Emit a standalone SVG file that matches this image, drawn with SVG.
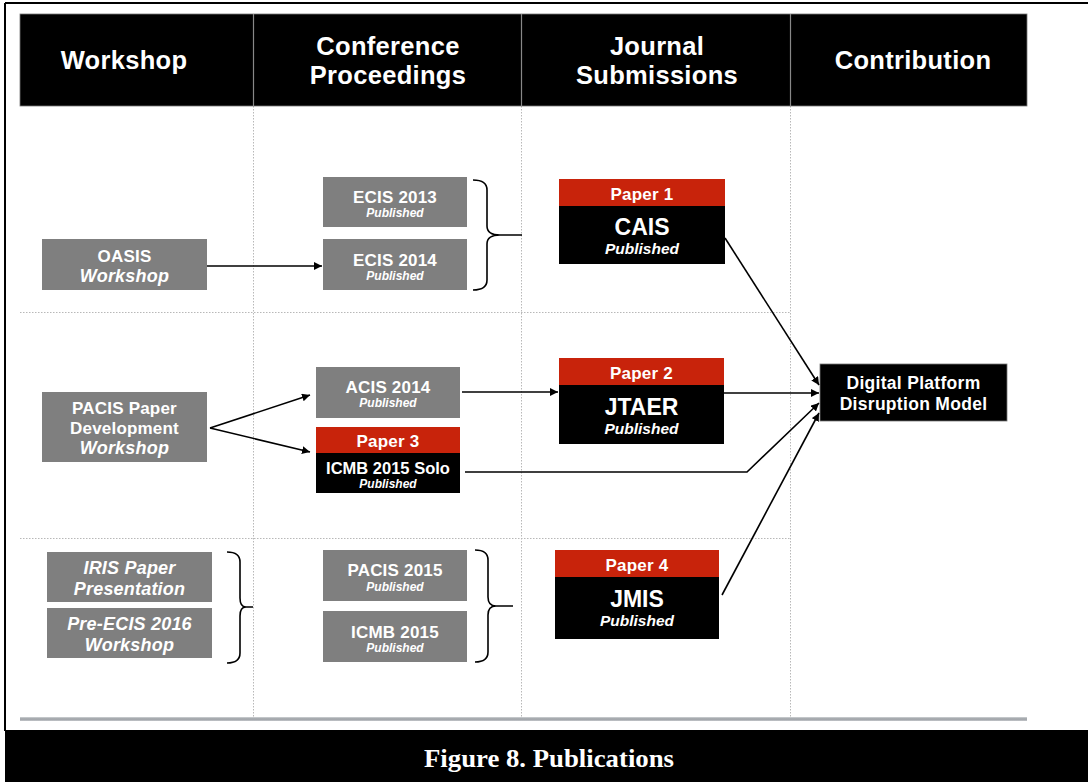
<svg xmlns="http://www.w3.org/2000/svg" width="1088" height="782" viewBox="0 0 1088 782">
<defs>
<marker id="ah" viewBox="0 0 10 10" refX="10" refY="5" markerWidth="8" markerHeight="8" markerUnits="userSpaceOnUse" orient="auto">
<path d="M0,0 L10,5 L0,10 z" fill="#000"/>
</marker>
<linearGradient id="gl" x1="0" y1="0" x2="0" y2="1">
<stop offset="0" stop-color="#d0d3d6"/>
<stop offset="0.5" stop-color="#9a9ea3"/>
<stop offset="1" stop-color="#c4c7ca"/>
</linearGradient>
<style>
text{font-family:"Liberation Sans",Arial,Helvetica,sans-serif;fill:#fff;text-anchor:middle;font-weight:bold}
.hd{font-size:25.5px;letter-spacing:0.3px}
.g{fill:#7f7f7f}
.r{fill:#c8230b}
.k{fill:#000}
.t15{font-size:17px;letter-spacing:0.2px}
.it{font-style:italic;font-size:18px}
.solo{font-size:16.5px}
.pub{font-size:12px;font-style:italic}
.big{font-size:23px}
.pubj{font-size:15.5px;font-style:italic}
.dp{font-size:17.5px;letter-spacing:0.3px}
.dot{stroke:#b8b8b8;stroke-width:1;stroke-dasharray:1.5,1.5;fill:none}
.arr{stroke:#000;stroke-width:1.6;fill:none;marker-end:url(#ah)}
.br{stroke:#000;stroke-width:1.6;fill:none}
</style>
</defs>
<rect x="0" y="0" width="1088" height="782" fill="#fff"/>
<line x1="5" y1="3" x2="1088" y2="3" stroke="#000" stroke-width="2"/>
<line x1="5" y1="3" x2="5" y2="731" stroke="#000" stroke-width="2"/>
<g id="grid">
<line class="dot" x1="253.5" y1="106" x2="253.5" y2="718"/>
<line class="dot" x1="521.5" y1="106" x2="521.5" y2="718"/>
<line class="dot" x1="790.5" y1="106" x2="790.5" y2="718"/>
<line class="dot" x1="20" y1="312.5" x2="790" y2="312.5"/>
<line class="dot" x1="20" y1="538.5" x2="790" y2="538.5"/>
<rect x="20" y="717" width="1007" height="4" fill="url(#gl)"/>
</g>
<g id="header">
<rect x="20" y="14" width="1007" height="92" fill="#000" stroke="#777" stroke-width="0.8"/>
<line x1="253.5" y1="14" x2="253.5" y2="106" stroke="#888" stroke-width="1.2"/>
<line x1="521.5" y1="14" x2="521.5" y2="106" stroke="#888" stroke-width="1.2"/>
<line x1="790.5" y1="14" x2="790.5" y2="106" stroke="#888" stroke-width="1.2"/>
<text class="hd" x="124" y="69">Workshop</text>
<text class="hd" x="388" y="55">Conference</text>
<text class="hd" x="388" y="84">Proceedings</text>
<text class="hd" x="657" y="55">Journal</text>
<text class="hd" x="657" y="84">Submissions</text>
<text class="hd" x="913" y="69">Contribution</text>
</g>
<g id="oasis">
<rect class="g" x="42" y="239" width="165" height="51"/>
<text class="t15" x="124.5" y="262">OASIS</text>
<text class="t15 it" x="124.5" y="282">Workshop</text>
</g>
<g id="ecis2013">
<rect class="g" x="323" y="177" width="144" height="50"/>
<text class="t15" x="395" y="203">ECIS 2013</text>
<text class="pub" x="395" y="217">Published</text>
</g>
<g id="ecis2014">
<rect class="g" x="323" y="239" width="144" height="51"/>
<text class="t15" x="395" y="266">ECIS 2014</text>
<text class="pub" x="395" y="280">Published</text>
</g>
<g id="paper1">
<rect class="r" x="559" y="179" width="166" height="27"/>
<rect class="k" x="559" y="206" width="166" height="58"/>
<text class="t15" x="642" y="200">Paper 1</text>
<text class="big" x="642" y="235">CAIS</text>
<text class="pubj" x="642" y="254">Published</text>
</g>
<g id="pacis-pdw">
<rect class="g" x="42" y="392" width="165" height="70"/>
<text class="t15" x="124.5" y="414">PACIS Paper</text>
<text class="t15" x="124.5" y="434">Development</text>
<text class="t15 it" x="124.5" y="454">Workshop</text>
</g>
<g id="acis2014">
<rect class="g" x="316" y="367" width="144" height="51"/>
<text class="t15" x="388" y="393">ACIS 2014</text>
<text class="pub" x="388" y="407">Published</text>
</g>
<g id="paper3">
<rect class="r" x="316" y="427" width="144" height="26"/>
<rect class="k" x="316" y="453" width="144" height="40"/>
<text class="t15" x="388" y="447">Paper 3</text>
<text class="solo" x="388" y="474">ICMB 2015 Solo</text>
<text class="pub" x="388" y="488">Published</text>
</g>
<g id="paper2">
<rect class="r" x="559" y="358" width="165" height="27"/>
<rect class="k" x="559" y="385" width="165" height="59"/>
<text class="t15" x="641.5" y="379">Paper 2</text>
<text class="big" x="641.5" y="415">JTAER</text>
<text class="pubj" x="641.5" y="434">Published</text>
</g>
<g id="dpdm">
<rect class="k" x="820" y="364" width="187" height="57" stroke="#777" stroke-width="0.8"/>
<text class="dp" x="913.5" y="389">Digital Platform</text>
<text class="dp" x="913.5" y="410">Disruption Model</text>
</g>
<g id="iris">
<rect class="g" x="47" y="552" width="165" height="50"/>
<text class="t15 it" x="129.5" y="574">IRIS Paper</text>
<text class="t15 it" x="129.5" y="595">Presentation</text>
</g>
<g id="preecis">
<rect class="g" x="47" y="608" width="165" height="50"/>
<text class="t15 it" x="129.5" y="630">Pre-ECIS 2016</text>
<text class="t15 it" x="129.5" y="651">Workshop</text>
</g>
<g id="pacis2015">
<rect class="g" x="323" y="550" width="144" height="51"/>
<text class="t15" x="395" y="576">PACIS 2015</text>
<text class="pub" x="395" y="591">Published</text>
</g>
<g id="icmb2015">
<rect class="g" x="323" y="611" width="144" height="51"/>
<text class="t15" x="395" y="638">ICMB 2015</text>
<text class="pub" x="395" y="652">Published</text>
</g>
<g id="paper4">
<rect class="r" x="555" y="550" width="164" height="27"/>
<rect class="k" x="555" y="577" width="164" height="62"/>
<text class="t15" x="637" y="571">Paper 4</text>
<text class="big" x="637" y="607">JMIS</text>
<text class="pubj" x="637" y="626">Published</text>
</g>
<g id="connectors">
<line class="arr" x1="207" y1="266" x2="322" y2="266"/>
<path class="br" d="M473,180 Q487,180 487,190 L487,226 Q487,235 500,235 L522,235 M500,235 Q487,235 487,244 L487,280 Q487,290 473,290"/>
<line class="arr" x1="210" y1="428" x2="310" y2="395"/>
<line class="arr" x1="210" y1="428" x2="310" y2="452"/>
<line class="arr" x1="462" y1="392" x2="558" y2="392"/>
<line class="arr" x1="725" y1="238" x2="819" y2="385"/>
<line class="arr" x1="724" y1="393" x2="819" y2="393"/>
<polyline class="arr" points="465,472 747,472 819,403"/>
<line class="arr" x1="722" y1="595" x2="819" y2="413"/>
<path class="br" d="M227,552 Q240,552 240,562 L240,598 Q240,607 246,607 L253,607 M246,607 Q240,607 240,616 L240,653 Q240,663 227,663"/>
<path class="br" d="M475,550 Q488,550 488,560 L488,597 Q488,606 496,606 L513,606 M496,606 Q488,606 488,615 L488,652 Q488,662 475,662"/>
</g>
<g id="caption">
<rect x="5" y="730" width="1083" height="52" fill="#000"/>
<text x="549" y="767" font-size="26" textLength="250" lengthAdjust="spacingAndGlyphs" style="font-family:'Liberation Serif','Times New Roman',serif">Figure 8. Publications</text>
</g>
</svg>
